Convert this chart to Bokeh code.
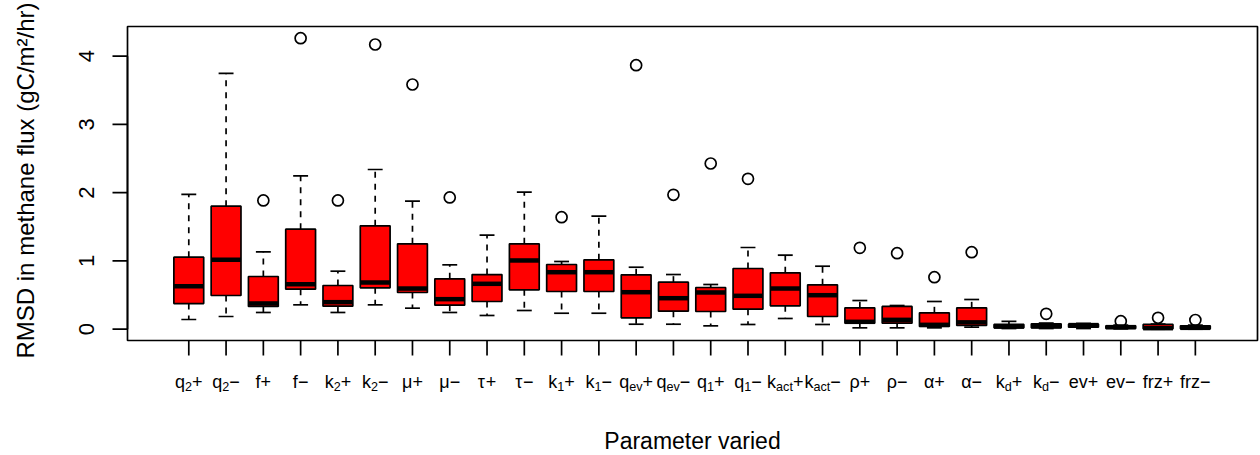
import math
from bokeh.plotting import figure
from bokeh.models import Range1d, ColumnDataSource
from bokeh.core.properties import value
from bokeh.embed import file_html
from bokeh.resources import INLINE

# ---------------- data ----------------
label_base = ["q", "q", "f", "f", "k", "k", "μ", "μ", "τ", "τ", "k", "k", "q", "q",
              "q", "q", "k", "k", "ρ", "ρ", "α", "α", "k", "k", "ev", "ev", "frz", "frz"]
label_sub = ["2", "2", "", "", "2", "2", "", "", "", "", "1", "1", "ev", "ev",
             "1", "1", "act", "act", "", "", "", "", "d", "d", "", "", "", ""]
label_sign = ["+", "−"] * 14

lower_whisker = [0.142, 0.186, 0.245, 0.357, 0.245, 0.357, 0.308, 0.245, 0.201, 0.274,
                 0.234, 0.234, 0.073, 0.073, 0.049, 0.069, 0.157, 0.069, 0.020, 0.020,
                 0.020, 0.030, 0.010, 0.010, 0.010, 0.005, 0.000, 0.000]
q1 = [0.376, 0.494, 0.333, 0.586, 0.337, 0.606, 0.538, 0.352, 0.406, 0.577,
      0.552, 0.552, 0.167, 0.264, 0.259, 0.293, 0.343, 0.186, 0.088, 0.088,
      0.040, 0.054, 0.020, 0.020, 0.030, 0.010, 0.005, 0.005]
median = [0.630, 1.017, 0.377, 0.659, 0.396, 0.684, 0.596, 0.440, 0.665, 1.007,
          0.835, 0.835, 0.542, 0.454, 0.538, 0.489, 0.596, 0.498, 0.108, 0.137,
          0.064, 0.100, 0.040, 0.045, 0.060, 0.030, 0.015, 0.020]
q3 = [1.055, 1.802, 0.772, 1.465, 0.640, 1.515, 1.251, 0.738, 0.801, 1.251,
      0.948, 1.017, 0.797, 0.689, 0.611, 0.889, 0.826, 0.650, 0.313, 0.333,
      0.240, 0.313, 0.070, 0.080, 0.075, 0.050, 0.070, 0.050]
upper_whisker = [1.974, 3.747, 1.134, 2.247, 0.850, 2.340, 1.876, 0.943, 1.377, 2.008,
                 0.992, 1.656, 0.908, 0.801, 0.655, 1.197, 1.084, 0.923, 0.420, 0.347,
                 0.406, 0.435, 0.115, 0.090, 0.085, 0.060, 0.075, 0.060]
outliers = [[], [], [1.886], [4.264], [1.886], [4.171], [3.585], [1.930], [], [],
            [1.641], [], [3.868], [1.969], [2.428], [2.203], [], [], [1.192], [1.114],
            [0.762], [1.128], [], [0.225], [], [0.117], [0.167], [0.135]]
y_ticks = [0, 1, 2, 3, 4]
y_tick_labels = ["0", "1", "2", "3", "4"]
x_title = "Parameter varied"
y_title = "RMSD in methane flux (gC/m²/hr)"

# ---------------- layout (pixels) ----------------
W, H = 1260, 455
BOX_L, BOX_R, BOX_T, BOX_B = 127, 1257, 26, 340   # plot box in page pixels
XS, XE = -0.644, 29.667       # data range across the plot box
YS, YE = -0.1656, 4.435
xscale = (BOX_R - BOX_L) / (XE - XS)
yscale = (BOX_B - BOX_T) / (YE - YS)
TICK = 15
FONT = "Liberation Sans"
LW = 1.7
BASE_K = 0.33   # text glyph baseline correction (fraction of font size)


def px2x(px):
    return XS + (px - BOX_L) / xscale


def py2y(py):
    return YS + (BOX_B - py) / yscale


n = len(median)
xs = list(range(1, n + 1))

p = figure(width=W, height=H, x_range=Range1d(px2x(0), px2x(W)),
           y_range=Range1d(py2y(H), py2y(0)),
           output_backend="svg", toolbar_location=None,
           x_axis_location=None, y_axis_location=None, min_border=0)
p.grid.visible = False
p.outline_line_color = None
p.background_fill_color = "white"
p.border_fill_color = "white"

# plot box
p.quad(left=[XS], right=[XE], bottom=[YS], top=[YE], fill_color=None,
       line_color="black", line_width=LW)

# y axis: line 0..4, outward ticks, rotated labels
p.segment(x0=[XS], y0=[y_ticks[0]], x1=[XS], y1=[y_ticks[-1]], line_color="black",
          line_width=LW)
p.segment(x0=[XS] * len(y_ticks), y0=y_ticks, x1=[px2x(BOX_L - TICK)] * len(y_ticks),
          y1=y_ticks, line_color="black", line_width=LW)
FY = 22.0
p.text(x=[px2x(93 - BASE_K * FY)] * len(y_ticks), y=y_ticks, text=y_tick_labels,
       angle=math.pi / 2, text_font=value(FONT), text_font_size=value(f"{FY}px"),
       text_align="center", text_baseline="alphabetic", text_color="black")

# x axis ticks
p.segment(x0=xs, y0=[YS] * n, x1=xs, y1=[py2y(BOX_B + TICK)] * n,
          line_color="black", line_width=LW)

# boxplots
src = ColumnDataSource(dict(
    x=xs, lw=lower_whisker, q1=q1, med=median, q3=q3, uw=upper_whisker,
    xl=[v - 0.4 for v in xs], xr=[v + 0.4 for v in xs],
    sl=[v - 0.2 for v in xs], sr=[v + 0.2 for v in xs],
))
p.segment(x0="x", y0="q3", x1="x", y1="uw", source=src, line_color="black",
          line_width=LW, line_dash="6 6")
p.segment(x0="x", y0="q1", x1="x", y1="lw", source=src, line_color="black",
          line_width=LW, line_dash="6 6")
p.segment(x0="sl", y0="uw", x1="sr", y1="uw", source=src, line_color="black", line_width=LW)
p.segment(x0="sl", y0="lw", x1="sr", y1="lw", source=src, line_color="black", line_width=LW)
p.vbar(x="x", width=0.8, top="q3", bottom="q1", source=src, fill_color="red",
       line_color="black", line_width=LW)
p.segment(x0="xl", y0="med", x1="xr", y1="med", source=src, line_color="black",
          line_width=4.5, line_cap="butt")
ox, oy = [], []
for i, vals in enumerate(outliers):
    for v in vals:
        ox.append(xs[i])
        oy.append(v)
p.scatter(x=ox, y=oy, marker="circle", size=11, fill_color=None,
          line_color="black", line_width=LW)

# x tick labels with subscripts
CW = {"q": .556, "f": .278, "k": .5, "μ": .577, "τ": .434, "ρ": .571, "α": .578,
      "e": .556, "v": .5, "r": .333, "z": .5, "+": .584, "−": .584,
      "1": .556, "2": .556, "a": .556, "c": .5, "t": .278, "d": .556}


def tw(txt):
    return sum(CW.get(c, .556) for c in txt)


F, FS = 18.0, 12.6
main_x, main_t, sub_x, sub_t = [], [], [], []
for i in range(n):
    wb = tw(label_base[i]) * F
    ws = tw(label_sub[i]) * FS
    wg = tw(label_sign[i]) * F
    start = xs[i] - (wb + ws + wg) / 2 / xscale
    main_x += [start, start + (wb + ws) / xscale]
    main_t += [label_base[i], label_sign[i]]
    if label_sub[i]:
        sub_x.append(start + wb / xscale)
        sub_t.append(label_sub[i])

p.text(x=main_x, y=[py2y(387 - BASE_K * F)] * len(main_x), text=main_t,
       text_font=value(FONT), text_font_size=value(f"{F}px"), text_align="left",
       text_baseline="alphabetic", text_color="black")
p.text(x=sub_x, y=[py2y(390.5 - BASE_K * FS)] * len(sub_x), text=sub_t,
       text_font=value(FONT), text_font_size=value(f"{FS}px"), text_align="left",
       text_baseline="alphabetic", text_color="black")

# axis titles
FT = 23.0
p.text(x=[(XS + XE) / 2], y=[py2y(448 - BASE_K * FT)], text=[x_title],
       text_font=value(FONT), text_font_size=value(f"{FT}px"), text_align="center",
       text_baseline="alphabetic", text_color="black")
FYT = 24.0
p.text(x=[px2x(33 - BASE_K * FYT)], y=[py2y(180)], text=[y_title],
       angle=math.pi / 2, text_font=value(FONT), text_font_size=value(f"{FYT}px"),
       text_align="center", text_baseline="alphabetic", text_color="black")

open("out.html", "w").write(file_html(p, INLINE))
